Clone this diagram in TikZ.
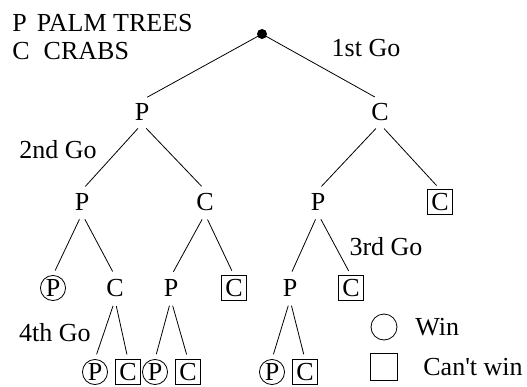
\documentclass[tikz,border=0pt]{standalone}
\usepackage{fontspec}
\setmainfont{Liberation Serif}
\usetikzlibrary{shapes}
\tikzstyle{plain}=[inner sep=1.5pt]
\tikzstyle{win}=[draw, circle, inner sep=0.5pt]
\tikzstyle{lose}=[draw, rectangle, inner sep=1.8pt]
\tikzstyle{branch}=[shorten <=3pt, shorten >=2.5pt]
\tikzstyle{key}=[anchor=west, inner sep=0pt]

\begin{document}
\begin{tikzpicture}[x=0.5pt, y=-0.5pt, font=\fontsize{13pt}{15pt}\selectfont]
		\useasboundingbox (0,0) rectangle (527,387);
		\node[circle, fill, inner sep=0pt, minimum size=5pt] (root) at (262,34) {};
		\node[plain] (p1) at (142,112) {P};
		\node[plain] (c1) at (380,112) {C};
		\node[plain] (p2a) at (82,202) {P};
		\node[plain] (c2a) at (205,202) {C};
		\node[plain] (p2b) at (318,202) {P};
		\node[lose] (c2b) at (440,202) {C};
		\node[win] (w3a) at (53,288) {P};
		\node[plain] (c3a) at (115,288) {C};
		\node[plain] (p3b) at (171,288) {P};
		\node[lose] (l3b) at (234,288) {C};
		\node[plain] (p3c) at (290,288) {P};
		\node[lose] (l3c) at (351,288) {C};
		\node[win] (w4a) at (95,372) {P};
		\node[lose] (l4a) at (128,372) {C};
		\node[win] (w4b) at (155,372) {P};
		\node[lose] (l4b) at (188,372) {C};
		\node[win] (w4c) at (272,372) {P};
		\node[lose] (l4c) at (305,372) {C};
		\draw[shorten >=3pt] (root.center) -- (p1.north);
		\draw[shorten >=3pt] (root.center) -- (c1.north);
		\draw[branch] (p1.south) -- (p2a.north);
		\draw[branch] (p1.south) -- (c2a.north);
		\draw[branch] (c1.south) -- (p2b.north);
		\draw[branch] (c1.south) -- (c2b.north);
		\draw[branch] (p2a.south) -- (w3a.north);
		\draw[branch] (p2a.south) -- (c3a.north);
		\draw[branch] (c2a.south) -- (p3b.north);
		\draw[branch] (c2a.south) -- (l3b.north);
		\draw[branch] (p2b.south) -- (p3c.north);
		\draw[branch] (p2b.south) -- (l3c.north);
		\draw[branch] (c3a.south) -- (w4a.north);
		\draw[branch] (c3a.south) -- (l4a.north);
		\draw[branch] (p3b.south) -- (w4b.north);
		\draw[branch] (p3b.south) -- (l4b.north);
		\draw[branch] (p3c.south) -- (w4c.north);
		\draw[branch] (p3c.south) -- (l4c.north);
		% goes
		\node (go1) at (366,48) {1st Go};
		\node (go2) at (58,150) {2nd Go};
		\node (go3) at (386,247) {3rd Go};
		\node (go4) at (55,333) {4th Go};
		% legend
		\node[key] (palm) at (12,23) {P\hspace{5pt}PALM TREES};
		\node[key] (crab) at (12,51) {C\hspace{7pt}CRABS};
		\node[draw, circle, minimum size=13pt] (kwin) at (384,327) {};
		\node[draw, rectangle, minimum size=13.5pt] (klose) at (384,367) {};
		\node[key] (twin) at (415,327) {Win};
		\node[key] (tlose) at (423,367) {Can\textquotesingle t win};
	\end{tikzpicture}
\end{document}
